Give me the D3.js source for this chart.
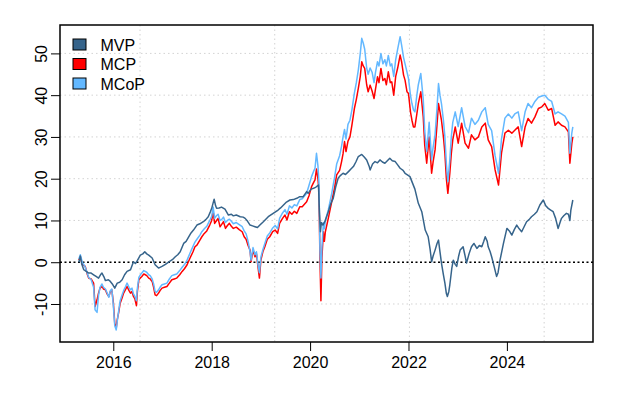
<!DOCTYPE html>
<html>
<head>
<meta charset="utf-8">
<script src="https://cdn.jsdelivr.net/npm/d3@7"></script>
<style>
  body { margin: 0; background: #fff; }
  text { font-family: "Liberation Sans", Arial, sans-serif; }
</style>
</head>
<body>
<div id="chart"></div>
<script>
// ---- data ----
const yearTicks = [2016, 2018, 2020, 2022, 2024];
const valueTicks = [-10, 0, 10, 20, 30, 40, 50];
const gridDays = [17000, 18000, 19000, 20000]; // days since 1970, where the grid lines sit
const seriesNames = ["MVP", "MCP", "MCoP"];
const seriesColors = ["#36648B", "#FF0000", "#63B8FF"];

const mvpYears = [
  2015.30, 2015.33, 2015.36, 2015.40, 2015.45, 2015.50, 2015.55, 2015.60, 2015.65, 2015.70,
  2015.74, 2015.77, 2015.81, 2015.84, 2015.90, 2015.94, 2015.98, 2016.03, 2016.08, 2016.13,
  2016.18, 2016.23, 2016.28, 2016.35, 2016.41, 2016.45, 2016.48, 2016.55, 2016.60, 2016.64,
  2016.68, 2016.72, 2016.79, 2016.85, 2016.92, 2016.99, 2017.06, 2017.13, 2017.20, 2017.26,
  2017.31, 2017.36, 2017.43, 2017.48, 2017.53, 2017.58, 2017.63, 2017.70, 2017.76, 2017.83,
  2017.88, 2017.93, 2017.97, 2018.00, 2018.05, 2018.08, 2018.10, 2018.15, 2018.20, 2018.27,
  2018.34, 2018.40, 2018.44, 2018.50, 2018.58, 2018.64, 2018.68, 2018.73, 2018.78, 2018.83,
  2018.88, 2018.93, 2018.98, 2019.05, 2019.10, 2019.15, 2019.25, 2019.35, 2019.40, 2019.46,
  2019.52, 2019.59, 2019.66, 2019.73, 2019.79, 2019.86, 2019.93, 2019.96, 2020.02, 2020.07,
  2020.12, 2020.17, 2020.19, 2020.21, 2020.23, 2020.26, 2020.30, 2020.37, 2020.42, 2020.47,
  2020.52, 2020.57, 2020.62, 2020.67, 2020.72, 2020.78, 2020.83, 2020.88, 2020.93, 2020.98,
  2021.05, 2021.10, 2021.15, 2021.20, 2021.22, 2021.27, 2021.32, 2021.37, 2021.42, 2021.47,
  2021.52, 2021.57, 2021.62, 2021.67, 2021.73, 2021.78, 2021.83, 2021.89, 2021.93, 2021.97,
  2022.03, 2022.08, 2022.13, 2022.20, 2022.27, 2022.34, 2022.40, 2022.44, 2022.47, 2022.50,
  2022.54, 2022.58, 2022.61, 2022.64, 2022.67, 2022.71, 2022.74, 2022.77, 2022.79, 2022.82,
  2022.84, 2022.88, 2022.91, 2022.95, 2022.98, 2023.02, 2023.05, 2023.11, 2023.15, 2023.18,
  2023.23, 2023.28, 2023.33, 2023.39, 2023.44, 2023.49, 2023.53, 2023.56, 2023.60, 2023.62,
  2023.66, 2023.69, 2023.74, 2023.79, 2023.82, 2023.86, 2023.93, 2024.00, 2024.05, 2024.10,
  2024.15, 2024.20, 2024.25, 2024.30, 2024.35, 2024.40, 2024.45, 2024.50, 2024.56, 2024.61,
  2024.67, 2024.74, 2024.79, 2024.84, 2024.89, 2024.94, 2024.99, 2025.04, 2025.08, 2025.11,
  2025.16, 2025.21, 2025.25, 2025.28, 2025.30, 2025.34
];
const mvpValues = [
  0.0, 1.5, -0.5, -1.8, -2.2, -2.6, -2.6, -3.0, -3.4, -3.8,
  -3.0, -2.6, -3.5, -4.4, -4.2, -4.6, -5.2, -6.2, -5.0, -4.8,
  -4.2, -3.0, -2.2, -1.8, 0.1, -0.3, 0.2, 1.7, 2.0, 2.5,
  2.0, 1.7, 1.0, -0.6, -1.4, -1.0, -0.5, 0.1, 0.6, 1.3,
  1.8, 2.5, 4.5, 5.0, 6.0, 7.0, 7.7, 8.9, 9.2, 9.7,
  10.2, 10.9, 12.0, 12.9, 15.1, 13.5, 12.9, 13.0, 13.2, 12.7,
  11.3, 11.5, 11.1, 11.3, 10.9, 10.8, 10.5, 9.8, 8.9, 8.7,
  8.5, 8.3, 8.9, 9.7, 10.3, 10.9, 11.7, 12.5, 13.0, 13.7,
  14.4, 14.9, 15.0, 15.3, 15.7, 15.7, 16.9, 16.5, 17.5, 17.7,
  18.0, 18.5, 12.1, 7.3, 9.5, 8.9, 9.7, 12.1, 14.0, 15.3,
  18.0, 20.1, 20.8, 21.3, 21.0, 21.7, 22.3, 22.9, 24.0, 25.3,
  25.8, 25.2, 24.5, 23.0, 22.1, 23.5, 24.1, 23.8, 24.5, 24.0,
  23.7, 24.3, 24.9, 24.3, 24.1, 23.3, 22.5, 22.0, 21.3, 21.0,
  20.5, 19.0, 17.5, 14.1, 12.1, 7.7, 6.1, 3.0, 0.1, 1.5,
  2.9, 4.5, 5.3, 2.5, -0.2, -3.0, -5.0, -7.5, -8.2, -7.0,
  -5.4, -1.5, 0.5, -0.5, -1.0, 1.5, 2.9, 3.7, 1.5, -0.2,
  2.0, 3.7, 4.5, 3.3, 4.0, 3.7, 5.0, 6.1, 5.0, 3.7,
  2.5, 1.3, -1.0, -3.4, -2.5, 0.5, 4.5, 8.1, 7.5, 6.5,
  7.8, 8.9, 8.0, 7.3, 8.5, 9.7, 10.2, 10.9, 11.5, 12.1,
  13.7, 14.9, 13.5, 12.9, 12.5, 12.1, 10.5, 8.1, 9.5, 10.5,
  11.2, 11.7, 11.5, 10.0, 12.5, 14.9
];

// MCP and MCoP share the same dates
const mcpYears = [
  2015.30, 2015.33, 2015.37, 2015.43, 2015.47, 2015.50, 2015.55, 2015.60, 2015.63, 2015.67,
  2015.70, 2015.73, 2015.77, 2015.80, 2015.84, 2015.87, 2015.91, 2015.94, 2015.97, 2016.00,
  2016.03, 2016.06, 2016.08, 2016.11, 2016.14, 2016.18, 2016.21, 2016.25, 2016.28, 2016.32,
  2016.35, 2016.38, 2016.41, 2016.44, 2016.47, 2016.49, 2016.52, 2016.55, 2016.58, 2016.62,
  2016.65, 2016.68, 2016.72, 2016.75, 2016.79, 2016.82, 2016.85, 2016.88, 2016.92, 2016.95,
  2016.99, 2017.04, 2017.09, 2017.14, 2017.19, 2017.24, 2017.29, 2017.35, 2017.40, 2017.45,
  2017.50, 2017.56, 2017.62, 2017.66, 2017.70, 2017.76, 2017.80, 2017.85, 2017.90, 2017.96,
  2018.00, 2018.03, 2018.06, 2018.10, 2018.13, 2018.17, 2018.20, 2018.24, 2018.28, 2018.32,
  2018.36, 2018.40, 2018.44, 2018.50, 2018.56, 2018.62, 2018.66, 2018.70, 2018.74, 2018.78,
  2018.80, 2018.84, 2018.88, 2018.91, 2018.94, 2018.97, 2019.00, 2019.04, 2019.08, 2019.13,
  2019.18, 2019.24, 2019.29, 2019.34, 2019.38, 2019.44, 2019.49, 2019.53, 2019.58, 2019.63,
  2019.68, 2019.73, 2019.79, 2019.84, 2019.93, 2019.98, 2020.03, 2020.08, 2020.10, 2020.13,
  2020.16, 2020.18, 2020.20, 2020.22, 2020.24, 2020.27, 2020.29, 2020.31, 2020.37, 2020.44,
  2020.50, 2020.54, 2020.60, 2020.64, 2020.67, 2020.70, 2020.73, 2020.77, 2020.81, 2020.85,
  2020.90, 2020.94, 2020.98, 2021.02, 2021.05, 2021.08, 2021.11, 2021.15, 2021.18, 2021.22,
  2021.26, 2021.30, 2021.33, 2021.37, 2021.40, 2021.44, 2021.48, 2021.52, 2021.55, 2021.59,
  2021.63, 2021.66, 2021.70, 2021.74, 2021.78, 2021.83, 2021.86, 2021.90, 2021.93, 2021.97,
  2022.00, 2022.04, 2022.07, 2022.10, 2022.13, 2022.17, 2022.20, 2022.25, 2022.30, 2022.33,
  2022.37, 2022.42, 2022.47, 2022.50, 2022.54, 2022.58, 2022.61, 2022.64, 2022.67, 2022.71,
  2022.74, 2022.77, 2022.80, 2022.84, 2022.87, 2022.90, 2022.95, 2023.01, 2023.08, 2023.15,
  2023.22, 2023.28, 2023.35, 2023.42, 2023.49, 2023.56, 2023.62, 2023.69, 2023.76, 2023.83,
  2023.89, 2023.96, 2024.03, 2024.10, 2024.16, 2024.23, 2024.30, 2024.37, 2024.43, 2024.50,
  2024.57, 2024.64, 2024.71, 2024.77, 2024.84, 2024.91, 2024.98, 2025.04, 2025.11, 2025.18,
  2025.25, 2025.28, 2025.32, 2025.34
];
const mcpValues = [
  0.5, 1.3, -0.5, -1.0, -2.8, -3.8, -4.0, -5.0, -10.6, -9.0,
  -7.4, -6.2, -5.8, -6.4, -6.6, -7.5, -8.2, -7.0, -6.6, -9.5,
  -14.6, -15.8, -13.8, -12.0, -9.8, -8.5, -7.4, -6.5, -5.8, -6.8,
  -7.4, -7.0, -8.2, -8.8, -10.4, -7.0, -4.2, -3.8, -3.4, -2.8,
  -3.0, -3.2, -3.8, -4.0, -4.6, -6.0, -7.8, -8.0, -7.4, -6.8,
  -6.2, -6.0, -5.8, -5.0, -4.2, -4.0, -3.8, -3.0, -2.2, -1.5,
  -0.6, 1.0, 2.5, 3.7, 4.1, 5.3, 6.1, 6.9, 7.5, 8.9,
  10.0, 12.1, 9.3, 10.0, 10.5, 8.5, 9.0, 9.7, 8.1, 8.8,
  9.3, 8.6, 8.1, 8.4, 7.8, 7.3, 6.1, 5.5, 4.0, 2.9,
  0.1, 2.9, 1.3, 2.0, -1.0, -3.8, 0.5, 2.5, 3.7, 5.5,
  6.1, 7.3, 7.7, 6.9, 9.3, 10.5, 11.3, 10.1, 12.1, 11.5,
  12.2, 11.7, 13.3, 13.3, 14.5, 16.0, 18.1, 19.3, 19.7, 22.3,
  20.0, 16.9, 1.0, -9.2, 1.0, 7.3, 5.0, 7.3, 10.5, 14.5,
  18.0, 20.9, 22.0, 24.1, 26.0, 28.9, 26.5, 29.0, 30.0, 32.8,
  36.8, 39.0, 41.6, 44.5, 48.0, 47.0, 46.4, 42.5, 40.8, 42.4,
  41.0, 39.2, 41.5, 44.4, 43.0, 46.4, 43.5, 44.0, 42.5, 45.6,
  43.0, 43.2, 40.0, 44.5, 46.5, 49.6, 48.0, 44.8, 43.6, 40.8,
  40.4, 36.0, 34.0, 32.4, 32.4, 35.5, 38.0, 40.8, 34.8, 28.0,
  23.7, 30.0, 21.3, 24.0, 26.9, 33.0, 38.0, 36.0, 34.0, 30.0,
  26.1, 20.0, 16.5, 21.3, 26.0, 29.3, 32.4, 28.5, 33.3, 28.5,
  27.3, 30.5, 29.3, 30.0, 32.4, 33.3, 29.3, 27.7, 22.1, 18.5,
  26.1, 30.9, 31.6, 30.9, 31.6, 32.4, 27.7, 32.4, 34.4, 33.3,
  34.8, 36.8, 37.2, 38.0, 36.4, 36.8, 32.8, 33.6, 32.8, 32.4,
  31.2, 23.7, 28.5, 30.0
];
const mcopValues = [
  0.8, 1.8, 0.0, -1.2, -2.6, -3.6, -4.2, -6.0, -11.4, -12.0,
  -8.0, -6.0, -5.2, -6.0, -6.4, -7.2, -8.4, -6.8, -6.4, -10.2,
  -15.2, -16.2, -14.2, -11.6, -9.2, -7.8, -6.8, -5.8, -5.0, -6.0,
  -6.6, -6.2, -7.6, -8.2, -9.2, -6.2, -3.6, -3.0, -2.6, -2.0,
  -2.2, -2.4, -3.0, -3.2, -4.0, -5.2, -7.0, -7.2, -6.6, -6.0,
  -5.4, -5.2, -5.0, -4.0, -3.2, -3.0, -2.8, -2.0, -1.2, -0.5,
  0.5, 2.2, 3.8, 4.8, 5.5, 6.5, 7.3, 8.0, 8.6, 10.0,
  11.0, 13.2, 10.5, 11.2, 11.5, 10.0, 10.2, 10.8, 9.5, 10.0,
  10.3, 9.8, 9.2, 9.5, 9.0, 8.5, 7.5, 6.8, 5.0, 2.5,
  0.5, 3.5, 1.8, 2.5, -0.5, -2.5, 1.2, 3.0, 4.5, 6.3,
  7.0, 8.2, 8.8, 8.0, 10.5, 11.8, 12.6, 11.5, 13.5, 13.0,
  13.8, 13.5, 15.0, 15.2, 16.5, 18.5, 20.5, 22.0, 22.5, 26.1,
  23.0, 19.0, 3.0, -3.8, 3.5, 9.5, 8.0, 10.0, 12.5, 16.5,
  20.5, 23.5, 25.5, 27.8, 30.0, 31.8, 29.5, 33.0, 34.0, 36.5,
  40.5, 43.0, 46.0, 50.0, 53.6, 52.5, 51.0, 46.5, 45.0, 46.5,
  45.5, 43.0, 45.5, 48.0, 47.0, 50.0, 47.5, 48.5, 47.0, 49.5,
  47.0, 47.5, 44.5, 48.5, 51.0, 54.0, 52.0, 49.0, 47.5, 45.5,
  44.0, 40.0, 38.0, 36.5, 36.0, 40.0, 42.5, 45.2, 39.0, 31.5,
  26.5, 33.5, 24.5, 27.5, 30.5, 37.0, 42.8, 40.0, 38.0, 34.0,
  30.0, 23.5, 19.3, 24.5, 30.0, 33.5, 36.0, 32.5, 37.0, 32.5,
  31.0, 34.5, 33.0, 34.0, 36.0, 37.0, 33.0, 31.5, 25.5, 21.3,
  29.5, 34.5, 35.5, 34.5, 35.5, 36.0, 31.5, 36.0, 38.0, 37.0,
  38.5, 39.5, 39.8, 40.0, 39.0, 38.5, 35.5, 36.0, 35.5, 35.0,
  33.5, 26.1, 31.0, 32.4
];

// ---- layout ----
const width = 627, height = 394;
const plot = { left: 60, right: 593, top: 25, bottom: 342 };

const x = d3.scaleLinear()
  .domain([2014.917, 2025.75])
  .range([plot.left, plot.right]);

const y = d3.scaleLinear()
  .domain([-19.1, 56.8])
  .range([plot.bottom, plot.top]);

const svg = d3.select("#chart")
  .append("svg")
  .attr("width", width)
  .attr("height", height);

// grid
svg.append("g")
  .selectAll("line")
  .data(valueTicks)
  .join("line")
  .attr("x1", plot.left).attr("x2", plot.right)
  .attr("y1", d => y(d)).attr("y2", d => y(d))
  .attr("stroke", "#d3d3d3")
  .attr("stroke-dasharray", "1.5 3");

svg.append("g")
  .selectAll("line")
  .data(gridDays)
  .join("line")
  .attr("x1", d => x(1970 + d / 365.25)).attr("x2", d => x(1970 + d / 365.25))
  .attr("y1", plot.top).attr("y2", plot.bottom)
  .attr("stroke", "#d3d3d3")
  .attr("stroke-dasharray", "1.5 3");

// zero line
svg.append("line")
  .attr("x1", plot.left).attr("x2", plot.right)
  .attr("y1", y(0)).attr("y2", y(0))
  .attr("stroke", "#000")
  .attr("stroke-width", 1.4)
  .attr("stroke-dasharray", "2 2.5");

// series
const line = d3.line()
  .x(d => x(d.t))
  .y(d => y(d.v));

const toPoints = (years, values) => years.map((t, i) => ({ t, v: values[i] }));

const series = [
  { data: toPoints(mcpYears, mcpValues), color: seriesColors[1] },
  { data: toPoints(mcpYears, mcopValues), color: seriesColors[2] },
  { data: toPoints(mvpYears, mvpValues), color: seriesColors[0] }
];

svg.append("g")
  .selectAll("path")
  .data(series)
  .join("path")
  .attr("d", d => line(d.data))
  .attr("fill", "none")
  .attr("stroke", d => d.color)
  .attr("stroke-width", 1.5)
  .attr("stroke-linejoin", "round");

// axes
const xAxis = d3.axisBottom(x)
  .tickValues(yearTicks)
  .tickFormat(d => String(d))
  .tickSize(9)
  .tickPadding(6);

const gx = svg.append("g")
  .attr("transform", `translate(0,${plot.bottom})`)
  .call(xAxis);
gx.select(".domain").remove();
gx.selectAll("text").attr("font-size", 16).attr("fill", "#000")
  .style("font-family", "'Liberation Sans', Arial, sans-serif");

// R writes negative labels with a plain hyphen
const yAxis = d3.axisLeft(y)
  .tickValues(valueTicks)
  .tickFormat(d => String(d))
  .tickSize(9);

const gy = svg.append("g")
  .attr("transform", `translate(${plot.left},0)`)
  .call(yAxis);
gy.select(".domain").remove();
gy.selectAll("text")
  .attr("x", 0).attr("y", -13).attr("dy", null)
  .attr("transform", "rotate(-90)")
  .attr("text-anchor", "middle")
  .attr("font-size", 16).attr("fill", "#000")
  .style("font-family", "'Liberation Sans', Arial, sans-serif");

// box
svg.append("rect")
  .attr("x", plot.left).attr("y", plot.top)
  .attr("width", plot.right - plot.left)
  .attr("height", plot.bottom - plot.top)
  .attr("fill", "none")
  .attr("stroke", "#000")
  .attr("stroke-width", 1.5);

// legend
const legend = svg.append("g")
  .selectAll("g")
  .data(seriesNames)
  .join("g")
  .attr("transform", (d, i) => `translate(73,${44.5 + i * 19.5})`);

legend.append("rect")
  .attr("x", 0).attr("y", -5.5)
  .attr("width", 13).attr("height", 11)
  .attr("fill", (d, i) => seriesColors[i])
  .attr("stroke", "#000");

legend.append("text")
  .attr("x", 27.5).attr("y", 6)
  .attr("font-size", 16)
  .text(d => d);
</script>
</body>
</html>
